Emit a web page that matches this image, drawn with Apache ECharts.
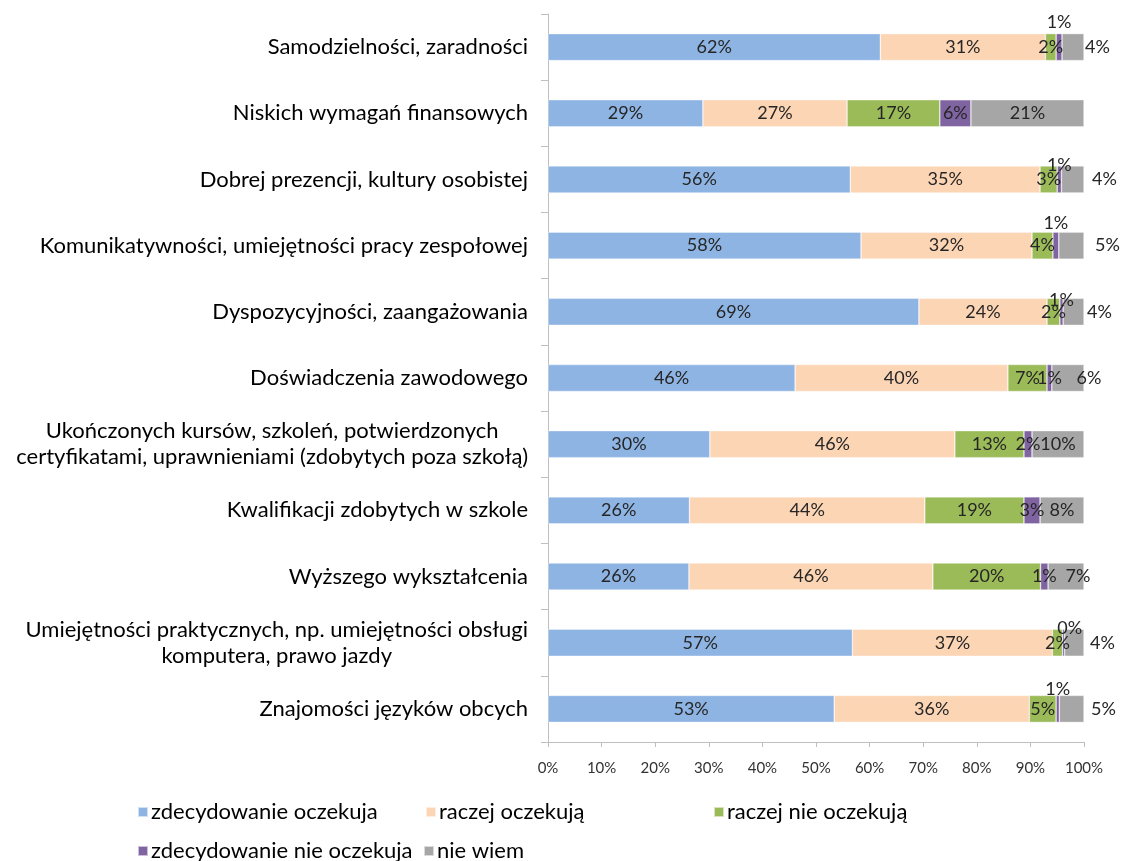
<!DOCTYPE html>
<html>
<head>
<meta charset="utf-8">
<script src="https://cdn.jsdelivr.net/npm/echarts@6/dist/echarts.min.js"></script>
<style>
html,body{margin:0;padding:0;background:#fff;}
#chart{width:1121px;height:861px;}
</style>
</head>
<body>
<div id="chart"></div>
<script>
const categories = [
  'Samodzielności, zaradności',
  'Niskich wymagań finansowych',
  'Dobrej prezencji, kultury osobistej',
  'Komunikatywności, umiejętności pracy zespołowej',
  'Dyspozycyjności, zaangażowania',
  'Doświadczenia zawodowego',
  'Ukończonych kursów, szkoleń, potwierdzonych\ncertyfikatami, uprawnieniami (zdobytych poza szkołą)',
  'Kwalifikacji zdobytych w szkole',
  'Wyższego wykształcenia',
  'Umiejętności praktycznych, np. umiejętności obsługi\nkomputera, prawo jazdy',
  'Znajomości języków obcych'
];
const seriesNames = ['zdecydowanie oczekuja', 'raczej oczekują', 'raczej nie oczekują', 'zdecydowanie nie oczekuja', 'nie wiem'];
const zdecydowanieOczekuja    = [62.0, 28.9, 56.4, 58.4, 69.2, 46.1, 30.2, 26.4, 26.3, 56.8, 53.4];
const raczejOczekuja          = [30.8, 26.9, 35.4, 31.9, 23.9, 39.7, 45.7, 43.9, 45.5, 37.3, 36.4];
const raczejNieOczekuja       = [ 2.0, 17.3,  3.2,  3.9,  2.4,  7.3, 12.9, 18.5, 20.1,  1.9,  5.0];
const zdecydowanieNieOczekuja = [ 1.1,  5.8,  0.8,  1.1,  0.6,  0.9,  1.5,  3.0,  1.4,  0.4,  0.6];
const nieWiem                 = [ 4.1, 21.1,  4.2,  4.7,  3.9,  6.0,  9.7,  8.2,  6.7,  3.6,  4.6];
const xTickValues = [0, 10, 20, 30, 40, 50, 60, 70, 80, 90, 100];

const seriesValues = [zdecydowanieOczekuja, raczejOczekuja, raczejNieOczekuja, zdecydowanieNieOczekuja, nieWiem];
const colors = ['#8EB4E3', '#FCD5B5', '#9BBB59', '#8064A2', '#A6A6A6'];

// label placement (style only)
const purpleTop = {0: 2, 2: -8, 3: 0, 4: -11, 9: -8, 10: -3};
const purpleTopDx = {9: 6};
const grayRight = {0: 1, 2: 8, 3: 11, 4: 3, 9: 6, 10: 7};
const grayInsideDx = {5: 21, 8: 12};

const FONT = 'Lato';
const labelStyle = {color: '#262626', fontSize: 18, fontFamily: FONT};

function buildData(si) {
  return seriesValues[si].map((v, i) => {
    const item = {value: v};
    if (si === 3 && purpleTop[i] !== undefined) {
      item.label = {position: 'top', distance: purpleTop[i]};
    }
    if (si === 4 && grayRight[i] !== undefined) {
      item.label = {position: 'right', distance: grayRight[i]};
    }
    return item;
  });
}

const series = seriesNames.map((name, si) => ({
  name: name,
  type: 'bar',
  stack: 'total',
  barWidth: 27,
  itemStyle: {color: colors[si], borderColor: 'rgba(255,255,255,0.6)', borderWidth: 0.6},
  label: Object.assign({
    show: true,
    position: 'inside',
    formatter: p => Math.round(p.value) + '%'
  }, labelStyle),
  labelLayout: function (params) {
    const i = params.dataIndex;
    let dx = 0;
    if (si === 4 && grayInsideDx[i] !== undefined) dx = grayInsideDx[i];
    if (si === 3 && purpleTopDx[i] !== undefined) dx = purpleTopDx[i];
    return {hideOverlap: false, dx: dx};
  },
  emphasis: {disabled: true},
  data: buildData(si)
}));

const legendCols = [
  {left: 137, top: 801},
  {left: 425, top: 801},
  {left: 713, top: 801},
  {left: 137, top: 840},
  {left: 423, top: 840}
];
const legends = seriesNames.map((n, i) => ({
  data: [n],
  left: legendCols[i].left,
  top: legendCols[i].top,
  icon: 'rect',
  itemWidth: 10,
  itemHeight: 10,
  itemGap: 3,
  padding: 0,
  selectedMode: false,
  textStyle: {fontSize: 22, fontFamily: FONT, color: '#000', padding: [0, 0, 0, -2]}
}));

const chart = echarts.init(document.getElementById('chart'), null, {renderer: 'canvas'});
chart.setOption({
  animation: false,
  color: colors,
  grid: {left: 548, right: 37, top: 14, bottom: 119, containLabel: false},
  legend: legends,
  xAxis: {
    type: 'value',
    min: 0,
    max: 100,
    interval: 10,
    axisLine: {show: true, lineStyle: {color: '#BFBFBF', width: 1}},
    axisTick: {show: true, length: 5, lineStyle: {color: '#BFBFBF'}},
    splitLine: {show: false},
    axisLabel: {
      margin: 19,
      color: '#333',
      fontSize: 15,
      fontFamily: FONT,
      formatter: v => xTickValues.indexOf(v) >= 0 ? v + '%' : ''
    }
  },
  yAxis: {
    type: 'category',
    inverse: true,
    data: categories,
    axisLine: {show: true, lineStyle: {color: '#BFBFBF', width: 1}},
    axisTick: {show: true, length: 7, lineStyle: {color: '#BFBFBF'}},
    axisLabel: {
      margin: 20,
      color: '#000',
      fontSize: 22,
      fontFamily: FONT,
      lineHeight: 26,
      formatter: v => v.indexOf('\n') >= 0 ? v.split('\n').map(s => '{c|' + s + '}').join('\n') : v,
      rich: {c: {align: 'center', fontSize: 22, fontFamily: FONT, color: '#000', lineHeight: 26}}
    }
  },
  series: series
});
</script>
</body>
</html>
